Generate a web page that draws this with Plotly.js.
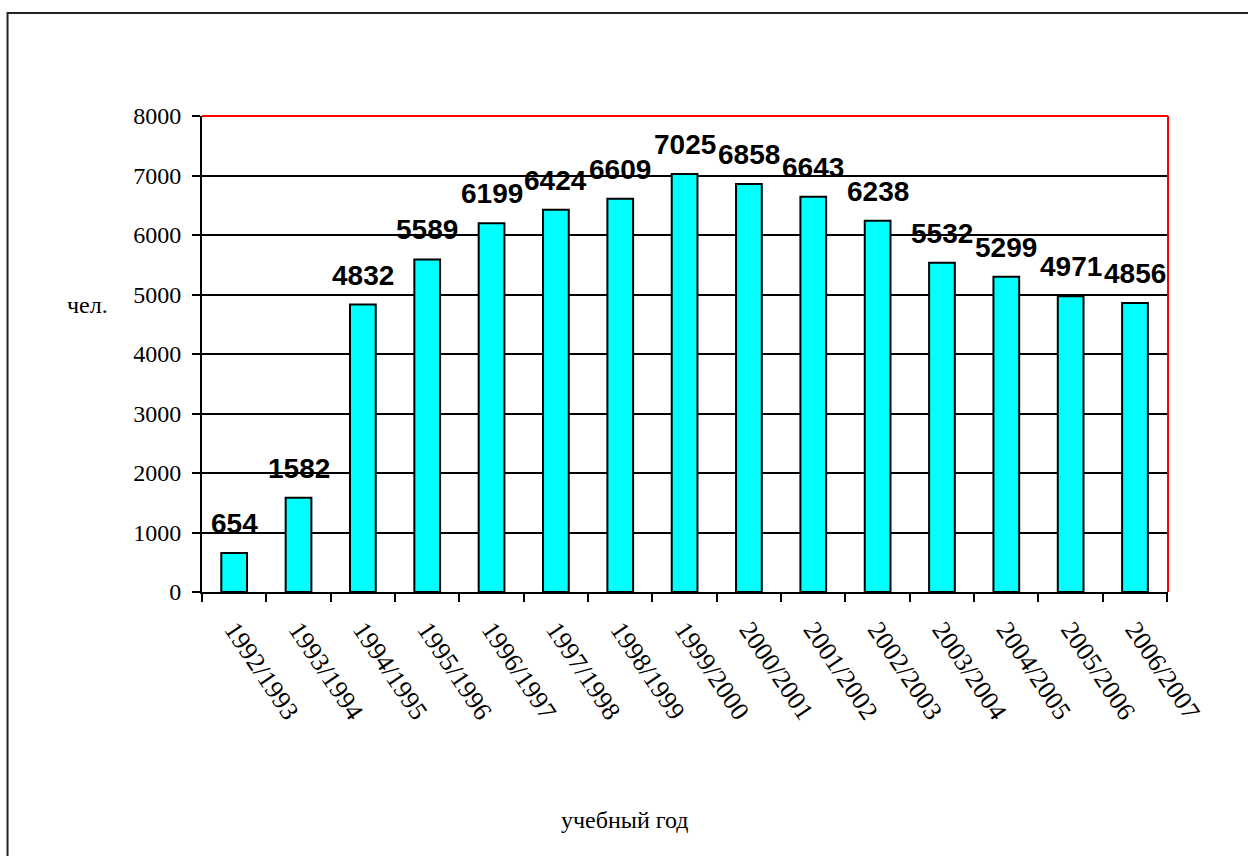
<!DOCTYPE html>
<html>
<head>
<meta charset="utf-8">
<script src="https://cdn.plot.ly/plotly-3.0.1.min.js"></script>
<style>body{margin:0;background:#fff}#chart{width:1248px;height:856px}</style>
</head>
<body>
<div id="chart"></div>
<script>
// учебные годы и численность
var years = ['1992/1993','1993/1994','1994/1995','1995/1996','1996/1997','1997/1998','1998/1999',
             '1999/2000','2000/2001','2001/2002','2002/2003','2003/2004','2004/2005','2005/2006','2006/2007'];
var students = [654, 1582, 4832, 5589, 6199, 6424, 6609, 7025, 6858, 6643, 6238, 5532, 5299, 4971, 4856];
var yTicks = [0, 1000, 2000, 3000, 4000, 5000, 6000, 7000, 8000];

var serif = 'Times New Roman';

var trace = {
    x: years,
    y: students,
    type: 'bar',
    marker: {color: '#00FFFF', line: {color: '#000', width: 2}},
    hoverinfo: 'none'
};

// value labels above bars
var labels = years.map((yr, i) => ({
    x: yr, y: students[i], xref: 'x', yref: 'y',
    text: String(students[i]), showarrow: false,
    yanchor: 'bottom', yshift: 12,
    font: {family: 'Arial', size: 28, color: '#000', weight: 'bold'}
}));

var layout = {
    width: 1248, height: 856,
    margin: {l: 202, r: 80, t: 116, b: 264},
    paper_bgcolor: '#fff', plot_bgcolor: '#fff',
    showlegend: false,
    bargap: 0.6,
    font: {family: serif, size: 24, color: '#000'},
    xaxis: {
        type: 'category',
        tickangle: 56,
        ticks: 'outside', ticklen: 8, tickwidth: 2, tickcolor: '#000',
        tickson: 'boundaries',
        ticklabelstandoff: 10,
        showline: true, linecolor: '#000', linewidth: 2,
        showgrid: false,
        tickfont: {family: serif, size: 26, color: '#000'}
    },
    yaxis: {
        range: [0, 8000],
        tickvals: yTicks,
        ticks: 'outside', ticklen: 8, tickwidth: 2, tickcolor: '#000',
        ticklabelstandoff: 6,
        showline: true, linecolor: '#000', linewidth: 2,
        showgrid: true, gridcolor: '#000', gridwidth: 2,
        zeroline: false,
        tickfont: {family: serif, size: 24, color: '#000'}
    },
    annotations: labels.concat([
        {text: 'чел.', xref: 'paper', yref: 'paper', x: -0.1185, y: 0.603, xanchor: 'center', yanchor: 'middle',
         showarrow: false, font: {family: serif, size: 24, color: '#000'}},
        {text: 'учебный год', xref: 'paper', yref: 'paper', x: 0.438, y: -0.479, xanchor: 'center', yanchor: 'middle',
         showarrow: false, font: {family: serif, size: 24, color: '#000'}}
    ]),
    shapes: [
        // red top and right border of the plot area
        {type: 'line', xref: 'paper', yref: 'paper', x0: 0, x1: 1, y0: 1, y1: 1, line: {color: '#FF0000', width: 2}, layer: 'above'},
        {type: 'line', xref: 'paper', yref: 'paper', x0: 1, x1: 1, y0: 0, y1: 1, line: {color: '#FF0000', width: 2}, layer: 'above'},
        // outer frame
        {type: 'rect', xref: 'paper', yref: 'paper', x0: -0.2013, x1: 1.2, y0: -0.7, y1: 1.2164,
         line: {color: '#222', width: 2}, layer: 'above'}
    ]
};

Plotly.newPlot('chart', [trace], layout, {displayModeBar: false, staticPlot: true});
</script>
</body>
</html>
